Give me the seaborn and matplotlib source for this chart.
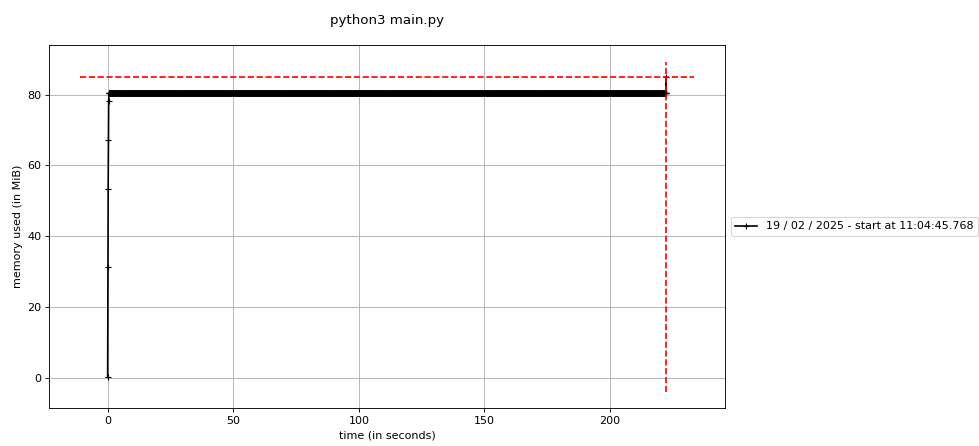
import numpy as np
import pandas as pd
import matplotlib
matplotlib.use("Agg")
import matplotlib.pyplot as plt
import seaborn as sns

# Memory trace of "python3 main.py" (sampled every 0.1 s)
title = "python3 main.py"
run_label = "19 / 02 / 2025 - start at 11:04:45.768"
sample_interval = 0.1

# start-up ramp
ramp_times = [0.0, 0.1, 0.2, 0.3, 0.4, 0.5]
ramp_mem = [0.4, 31.2, 53.4, 67.1, 78.3, 80.4]

# steady state until the run ends, then the peak sample
plateau_start = 0.6
plateau_end = 222.2
plateau_mem = 80.4
peak_time = 222.3
peak_mem = 85.1
tail_times = [222.4]
tail_mem = [80.5]

plateau_times = np.arange(plateau_start, plateau_end + 1e-9, sample_interval)
times = np.concatenate([ramp_times, plateau_times, [peak_time], tail_times])
mem = np.concatenate([ramp_mem, np.full(len(plateau_times), plateau_mem), [peak_mem], tail_mem])
df = pd.DataFrame({"time": times, "mem": mem})

DPI = 80
fig = plt.figure(figsize=(979 / DPI, 446 / DPI), dpi=DPI)
ax = fig.add_axes([49 / 979, 38 / 446, 676 / 979, 363 / 446])

sns.lineplot(data=df, x="time", y="mem", marker="+", color="k", estimator=None,
             sort=False, markeredgecolor="k", markersize=6, markeredgewidth=1.0,
             linewidth=1.5, label=run_label, ax=ax)

# peak memory markers spanning the current limits
xlo, xhi = ax.get_xlim()
ylo, yhi = ax.get_ylim()
imax = int(np.argmax(mem))
ax.hlines(mem[imax], xlo, xhi, colors="r", linestyles="--")
ax.vlines(times[imax], ylo, yhi, colors="r", linestyles="--")

ax.set_xticks([0, 50, 100, 150, 200])
ax.set_yticks([0, 20, 40, 60, 80])
ax.grid(True, color="#b0b0b0", linewidth=0.8)
ax.set_xlabel("time (in seconds)", fontsize=10)
ax.set_ylabel("memory used (in MiB)", fontsize=10)
ax.tick_params(labelsize=10)

ax.legend(loc="center left", bbox_to_anchor=(1, 0.5), fontsize=10)
ax.set_title(title, pad=19, fontsize=12)

fig.savefig("out.png", dpi=DPI)
